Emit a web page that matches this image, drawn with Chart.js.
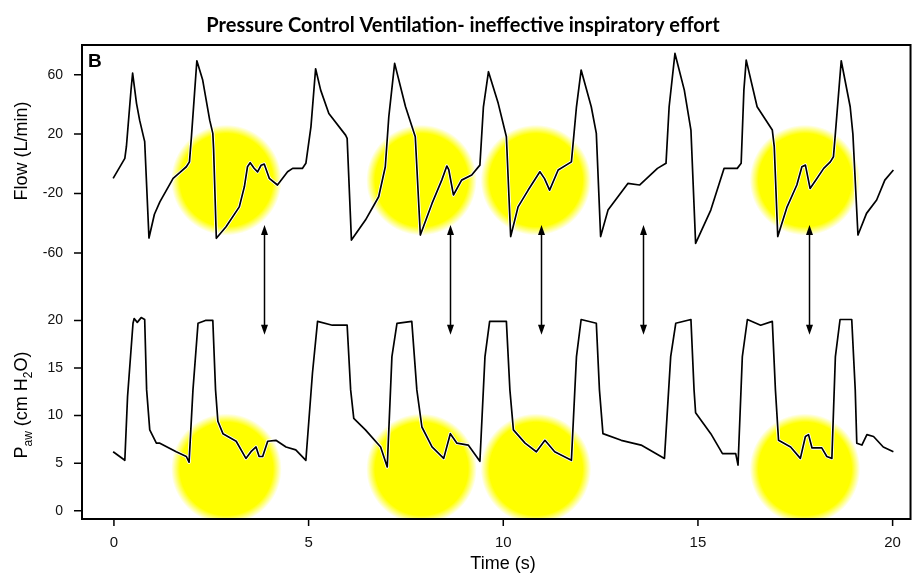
<!DOCTYPE html>
<html>
<head>
<meta charset="utf-8">
<script src="https://cdn.jsdelivr.net/npm/chart.js@4.4.0/dist/chart.umd.min.js"></script>
<style>
html, body { margin: 0; padding: 0; background: #fff; }
</style>
</head>
<body>
<canvas id="ventChart" width="916" height="576"></canvas>
<script>
// flow trace (time in s, flow in L/min)
const flowTime = [-0.02, 0.28, 0.32, 0.44, 0.48, 0.58, 0.66, 0.77, 0.79, 0.90, 1.04, 1.18, 1.52, 1.69, 1.86, 1.94,
    1.99, 2.07, 2.13, 2.28, 2.46, 2.54, 2.56, 2.63, 2.88, 3.22, 3.35, 3.43, 3.50, 3.60, 3.69, 3.78, 3.86, 3.99, 4.20,
    4.46, 4.59, 4.84, 4.93, 5.06, 5.18, 5.31, 5.52, 5.95, 5.99, 6.10, 6.46, 6.80, 6.97, 7.06, 7.21, 7.49, 7.74, 7.87,
    8.17, 8.42, 8.55, 8.60, 8.72, 8.93, 9.19, 9.40, 9.49, 9.62, 9.87, 10.08, 10.19, 10.38, 10.64, 10.94, 11.06,
    11.19, 11.41, 11.75, 11.88, 12.00, 12.26, 12.39, 12.50, 12.69, 13.20, 13.50, 13.96, 14.18, 14.26, 14.41,
    14.65, 14.82, 14.94, 15.33, 15.67, 16.01, 16.11, 16.18, 16.24, 16.52, 16.91, 16.96, 17.05, 17.29, 17.54,
    17.67, 17.76, 17.88, 18.06, 18.23, 18.40, 18.48, 18.53, 18.68, 18.91, 18.98, 19.11, 19.33, 19.59, 19.80, 20.02];
const flowValues = [-9.8, 3.6, 11.5, 50, 61, 40.7, 29.4, 17.1, 15, -50, -34, -25.6, -9.8, -6, -2, 1.3,
    18, 47.4, 69.4, 56.4, 29.4, 20.5, 10, -50.2, -42.4, -29, -15.5, -2, 0.7, -3, -5.4, -1, -0.2, -9.8, -14.3,
    -5.4, -3.1, -3.1, 0.3, 24.9, 64, 49.6, 33.9, 19.3, 17.1, -51.4, -37.9, -22.2, -2, 31.7, 67.6, 38.4, 18.2, -48,
    -26.7, -11, -1.5, -4, -21, -11, -7.6, -0.9, 38.4, 62, 40.7, 18.2, -49, -29, -17.7, -5.4, -10,
    -17.7, -4.2, 1.3, 38.4, 63.1, 38.4, 20.5, -49, -31.2, -13.2, -14.3, -3.1, 0.3, 38.4, 74.3,
    49.6, 22.7, -53.6, -31.2, -3.1, -3.1, 0.3, 49.6, 69.8, 38.4, 22.7, 11.5, -49, -29, -14.3,
    -2, -0.9, -16.6, -9.8, -3.1, 1.3, 4.7, 20.5, 69.4, 38.4, 20, -48, -33.4, -24.4, -11, -4.2];

// airway pressure trace (time in s, cm H2O)
const pawTime = [-0.02, 0.28, 0.35, 0.49, 0.52, 0.60, 0.70, 0.79, 0.84, 0.92, 1.09, 1.18, 1.60, 1.86, 1.93, 2.03,
    2.16, 2.35, 2.54, 2.61, 2.67, 2.80, 3.14, 3.39, 3.52, 3.65, 3.73, 3.82, 3.95, 4.16, 4.42, 4.67, 4.93, 5.10, 5.23,
    5.61, 5.99, 6.08, 6.16, 6.46, 6.85, 7.02, 7.14, 7.27, 7.65, 7.78, 7.91, 8.17, 8.47, 8.64, 8.81, 9.10,
    9.40, 9.53, 9.65, 10.08, 10.17, 10.26, 10.56, 10.85, 11.07, 11.32, 11.75, 11.88, 12.00, 12.39, 12.47,
    12.56, 13.03, 13.54, 14.14, 14.30, 14.43, 14.82, 14.90, 14.94, 15.33, 15.63, 15.97, 16.03, 16.14, 16.27,
    16.61, 16.91, 16.99, 17.07, 17.38, 17.63, 17.76, 17.84, 17.93, 18.18, 18.31, 18.44, 18.53, 18.65, 18.95,
    19.04, 19.08, 19.21, 19.34, 19.51, 19.76, 20.02];
const pawValues = [6.2, 5.3, 12, 19.7, 20.2, 19.8, 20.3, 20.1, 12.7, 8.5, 7.1, 7.1, 6.2, 5.7, 5.1, 12.7,
    19.7, 20.0, 20.0, 12.7, 9.4, 8.1, 7.3, 5.5, 6.2, 6.7, 5.7, 5.7, 7.3, 7.4, 6.7, 6.4, 5.3, 14.5, 19.9,
    19.5, 19.5, 12.7, 9.7, 8.5, 6.7, 4.6, 16.2, 19.7, 19.9, 12.7, 8.8, 6.7, 5.5, 8.1, 7.1, 6.9,
    5.2, 16.2, 19.9, 19.9, 12.7, 8.5, 7.1, 6.2, 7.4, 6.2, 5.3, 16.2, 20.1, 19.7, 12.7,
    8.1, 7.4, 6.9, 5.5, 16.2, 19.7, 20.1, 12.7, 10.3, 8.1, 6.0, 6.0, 4.8, 16.2, 20.1,
    19.5, 19.9, 12.7, 7.4, 6.7, 5.5, 7.8, 8.0, 6.6, 6.6, 5.7, 5.5, 16.2, 20.1, 20.1,
    12.7, 7.1, 6.9, 8.0, 7.8, 6.7, 6.2];

const timeTicks = [0, 5, 10, 15, 20];
const flowTicks = [-60, -20, 20, 60];
const pawTicks = [0, 5, 10, 15, 20];

// ineffective efforts (yellow highlights) and the arrows linking both traces
const effortTimes = [2.89, 7.90, 10.84, 17.75];
const arrowTimes = [3.86, 8.64, 10.97, 13.58, 17.85];

const FONT = "'Liberation Sans', Arial, sans-serif";

const decorations = {
    id: 'decorations',
    beforeDatasetsDraw(chart) {
        const { ctx, chartArea, scales } = chart;
        const x = scales.x, yf = scales.yFlow, yp = scales.yPaw;
        const r = x.getPixelForValue(1.42) - x.getPixelForValue(0);
        ctx.save();
        ctx.beginPath();
        ctx.rect(chartArea.left, chartArea.top, chartArea.width, chartArea.height);
        ctx.clip();
        effortTimes.forEach(t => {
            const cx = x.getPixelForValue(t);
            [yf.getPixelForValue(-11), yp.getPixelForValue(4.4)].forEach(cy => {
                const g = ctx.createRadialGradient(cx, cy, 0, cx, cy, r);
                g.addColorStop(0, 'rgba(255,255,0,1)');
                g.addColorStop(0.84, 'rgba(255,255,0,1)');
                g.addColorStop(1, 'rgba(255,255,0,0)');
                ctx.fillStyle = g;
                ctx.beginPath();
                ctx.arc(cx, cy, r, 0, Math.PI * 2);
                ctx.fill();
            });
        });
        ctx.restore();
    },
    afterDraw(chart) {
        const { ctx, chartArea, scales } = chart;
        const x = scales.x, yf = scales.yFlow, yp = scales.yPaw;
        ctx.save();

        // frame and tick marks
        ctx.strokeStyle = '#000';
        ctx.lineWidth = 2;
        ctx.strokeRect(chartArea.left, chartArea.top, chartArea.width, chartArea.height);
        ctx.lineWidth = 1.5;
        ctx.beginPath();
        timeTicks.forEach(v => {
            const px = x.getPixelForValue(v);
            ctx.moveTo(px, chartArea.bottom);
            ctx.lineTo(px, chartArea.bottom + 7);
        });
        flowTicks.forEach(v => {
            const py = yf.getPixelForValue(v);
            ctx.moveTo(chartArea.left, py);
            ctx.lineTo(chartArea.left - 8, py);
        });
        pawTicks.forEach(v => {
            const py = yp.getPixelForValue(v);
            ctx.moveTo(chartArea.left, py);
            ctx.lineTo(chartArea.left - 8, py);
        });
        ctx.stroke();

        // arrows
        const top = yf.getPixelForValue(-41.3);
        const bot = yp.getPixelForValue(18.5);
        ctx.fillStyle = '#000';
        ctx.lineWidth = 1.5;
        arrowTimes.forEach(t => {
            const ax = Math.round(x.getPixelForValue(t)) + 0.5;
            ctx.beginPath();
            ctx.moveTo(ax, top + 6);
            ctx.lineTo(ax, bot - 6);
            ctx.stroke();
            ctx.beginPath();
            ctx.moveTo(ax, top);
            ctx.lineTo(ax - 3.5, top + 10);
            ctx.lineTo(ax + 3.5, top + 10);
            ctx.closePath();
            ctx.fill();
            ctx.beginPath();
            ctx.moveTo(ax, bot);
            ctx.lineTo(ax - 3.5, bot - 10);
            ctx.lineTo(ax + 3.5, bot - 10);
            ctx.closePath();
            ctx.fill();
        });

        // panel letter
        ctx.font = 'bold 19px ' + FONT;
        ctx.textAlign = 'left';
        ctx.textBaseline = 'alphabetic';
        ctx.fillText('B', 88, 67);

        // title
        ctx.font = "bold 20px Lato, 'Open Sans', sans-serif";
        ctx.textAlign = 'center';
        ctx.fillText('Pressure Control Ventilation- ineffective inspiratory effort', 463, 32);

        // x title
        ctx.font = '18px ' + FONT;
        ctx.fillText('Time (s)', 503, 569);

        // y titles
        ctx.save();
        ctx.translate(27, 151);
        ctx.rotate(-Math.PI / 2);
        ctx.fillText('Flow (L/min)', 0, 0);
        ctx.restore();

        const parts = [['P', 18, 0], ['aw', 12, 5], [' (cm H', 18, 0], ['2', 12, 5], ['O)', 18, 0]];
        let total = 0;
        parts.forEach(p => { ctx.font = p[1] + 'px ' + FONT; total += ctx.measureText(p[0]).width; });
        ctx.save();
        ctx.translate(27, 405);
        ctx.rotate(-Math.PI / 2);
        ctx.textAlign = 'left';
        let px = -total / 2;
        parts.forEach(p => {
            ctx.font = p[1] + 'px ' + FONT;
            ctx.fillText(p[0], px, p[2]);
            px += ctx.measureText(p[0]).width;
        });
        ctx.restore();

        ctx.restore();
    }
};

const tickSetter = list => scale => { scale.ticks = list.map(v => ({ value: v })); };
const flowPoints = flowTime.map((t, i) => ({ x: t, y: flowValues[i] }));
const pawPoints = pawTime.map((t, i) => ({ x: t, y: pawValues[i] }));
const trace = (label, data, axis, color, width, order) => ({
    label, data, yAxisID: axis, borderColor: color, borderWidth: width,
    pointRadius: 0, tension: 0, order, borderJoinStyle: 'round'
});

new Chart(document.getElementById('ventChart'), {
    type: 'line',
    data: {
        datasets: [
            trace('Flow', flowPoints, 'yFlow', '#000', 1.7, 1),
            trace('Paw', pawPoints, 'yPaw', '#000', 1.7, 1),
            // white halo under the traces, visible over the yellow highlights
            trace('Flow halo', flowPoints, 'yFlow', '#fff', 3.4, 2),
            trace('Paw halo', pawPoints, 'yPaw', '#fff', 3.4, 2)
        ]
    },
    options: {
        responsive: false,
        animation: false,
        layout: { padding: { top: 45, right: 2, left: 0, bottom: 0 } },
        plugins: { legend: { display: false }, tooltip: { enabled: false } },
        scales: {
            x: {
                type: 'linear',
                min: -0.82,
                max: 20.46,
                afterBuildTicks: tickSetter(timeTicks),
                afterFit: s => { s.height = 57; },
                ticks: { font: { size: 15, family: FONT }, color: '#111', padding: 15, maxRotation: 0 },
                grid: { display: false, drawTicks: false },
                border: { color: '#000', width: 2 }
            },
            yPaw: {
                type: 'linear',
                position: 'left',
                stack: 'v',
                stackWeight: 229,
                min: -0.87,
                max: 23.2,
                afterBuildTicks: tickSetter(pawTicks),
                afterFit: s => { s.width = 82; },
                ticks: { font: { size: 14, family: FONT }, color: '#111', padding: 19 },
                grid: { display: false, drawTicks: false },
                border: { color: '#000', width: 2 }
            },
            yFlow: {
                type: 'linear',
                position: 'left',
                stack: 'v',
                stackWeight: 245,
                min: -85,
                max: 80,
                afterBuildTicks: tickSetter(flowTicks),
                afterFit: s => { s.width = 82; },
                ticks: { font: { size: 14, family: FONT }, color: '#111', padding: 19 },
                grid: { display: false, drawTicks: false },
                border: { color: '#000', width: 2 }
            }
        }
    },
    plugins: [decorations]
});
</script>
</body>
</html>
